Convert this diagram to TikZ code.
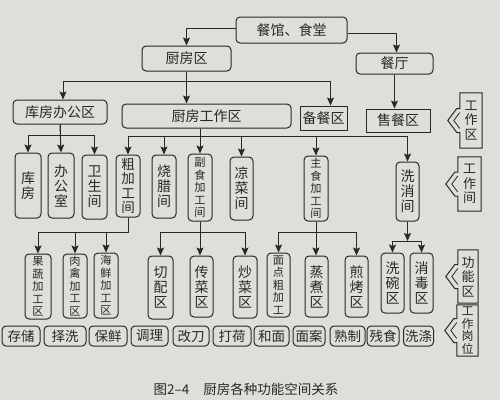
\documentclass[tikz,border=0pt]{standalone}
\usepackage{fontspec}
\setmainfont{Noto Sans CJK SC}
\usetikzlibrary{arrows.meta,calc}

\definecolor{paper}{RGB}{222,222,218}
\definecolor{ink}{RGB}{40,40,40}

\tikzset{
  box/.style={draw=ink, line width=1pt, rounded corners=4pt, inner sep=0pt,
    align=center, text=ink, font=\fontsize{14}{15}\selectfont},
  sqbox/.style={box, rounded corners=0pt},
  small/.style={font=\fontsize{11.2}{12.5}\selectfont},
  four/.style={font=\fontsize{13.5}{14.4}\selectfont},
  low/.style={box, minimum height=20pt, font=\fontsize{13.5}{14}\selectfont},
  arr/.style={draw=ink, line width=1pt, -{Stealth[length=8pt,width=7pt,inset=1.5pt]}},
  tag/.style={inner sep=0pt, align=center, text=ink, font=\fontsize{13}{14.5}\selectfont}
}

% frame with a hollow arrow head on its left side
\newcommand{\tagframe}[1]{%
  \draw[ink, line width=1pt] (#1.north west) -- ($(#1.west)+(0pt,12pt)$) -- ++(-3pt,0pt)
    -- ++(-9pt,-12pt) -- ++(9pt,-12pt) -- ++(3pt,0pt) -- (#1.south west)
    -- (#1.south east) -- (#1.north east) -- cycle;
  \draw[ink, line width=0.8pt] ($(#1.west)+(0pt,8pt)$) -- ++(-6pt,-8pt) -- ++(6pt,-8pt);
}

\begin{document}
\begin{tikzpicture}[x=1pt, y=-1pt]
    \fill[paper] (0,0) rectangle (500,400);
    % Top levels
    \node[box, minimum width=111pt, minimum height=26pt] (canguan) at (291.5,30) {餐馆、食堂};
    \node[box, minimum width=89pt, minimum height=25pt] (chufang) at (186.5,58.5) {厨房区};
    \node[box, minimum width=77pt, minimum height=21pt] (canting) at (394.5,63.5) {餐厅};
    \node[box, minimum width=94pt, minimum height=24pt] (kfbg) at (60,112) {库房办公区};
    \node[box, minimum width=169pt, minimum height=24pt] (work) at (206.5,116) {厨房工作区};
    \node[sqbox, minimum width=47pt, minimum height=24pt] (beican) at (323.5,118) {备餐区};
    \node[sqbox, minimum width=64pt, minimum height=23pt] (shoucan) at (398,120.5) {售餐区};
    % Rooms
    \node[box, minimum width=26pt, minimum height=65pt] (kufang) at (28,185.5) {库\\房};
    \node[box, minimum width=26pt, minimum height=65pt] (bangong) at (61,185.5) {办\\公\\室};
    \node[box, minimum width=25pt, minimum height=64pt] (weisheng) at (94.5,187) {卫\\生\\间};
    \node[box, four, minimum width=24pt, minimum height=62pt] (cujia) at (128,186) {粗\\加\\工\\间};
    \node[box, minimum width=24pt, minimum height=63pt] (shaola) at (164,186.5) {烧\\腊\\间};
    \node[box, small, minimum width=24pt, minimum height=67pt] (fushi) at (200,187.5) {副\\食\\加\\工\\间};
    \node[box, minimum width=23pt, minimum height=63pt] (liangcai) at (241.5,188.5) {凉\\菜\\间};
    \node[box, small, minimum width=24pt, minimum height=65pt] (zhushi) at (316,188.5) {主\\食\\加\\工\\间};
    \node[box, minimum width=23pt, minimum height=59pt] (xixiao) at (407.5,191.5) {洗\\消\\间};
    % Zones
    \node[box, small, minimum width=26pt, minimum height=65pt] (guoshu) at (38,286.5) {果\\蔬\\加\\工\\区};
    \node[box, small, minimum width=24pt, minimum height=64pt] (rouqin) at (75,286) {肉\\禽\\加\\工\\区};
    \node[box, small, minimum width=24pt, minimum height=65pt] (haixian) at (106,285.5) {海\\鲜\\加\\工\\区};
    \node[box, minimum width=25pt, minimum height=63pt] (qiepei) at (160.5,287.5) {切\\配\\区};
    \node[box, minimum width=23pt, minimum height=61pt] (chuancai) at (201.5,286.5) {传\\菜\\区};
    \node[box, minimum width=24pt, minimum height=62pt] (chaocai) at (245,287) {炒\\菜\\区};
    \node[box, small, minimum width=23pt, minimum height=64pt] (miandian) at (278.5,285) {面\\点\\粗\\加\\工};
    \node[box, minimum width=23pt, minimum height=61pt] (zhengzhu) at (316.5,286.5) {蒸\\煮\\区};
    \node[box, minimum width=23pt, minimum height=61pt] (jiankao) at (356.5,286.5) {煎\\烤\\区};
    \node[box, minimum width=23pt, minimum height=60pt] (xiwan) at (392.5,283) {洗\\碗\\区};
    \node[box, minimum width=23pt, minimum height=60pt] (xiaodu) at (421.5,283) {消\\毒\\区};
    % Posts
    \node[low, minimum width=38pt] (cunchu) at (21,336) {存储};
    \node[low, minimum width=42pt] (zexi) at (65,336) {择洗};
    \node[low, minimum width=38pt] (baoxian) at (108,336) {保鲜};
    \node[low, minimum width=37pt] (tiaoli) at (149.5,336) {调理};
    \node[low, minimum width=36pt] (gaidao) at (191,336) {改刀};
    \node[low, minimum width=38pt] (dahe) at (232,336) {打荷};
    \node[low, minimum width=35pt] (hemian) at (271.5,336) {和面};
    \node[low, minimum width=32pt] (mianan) at (309,336) {面案};
    \node[low, minimum width=35pt] (shuzhi) at (347.5,336) {熟制};
    \node[low, minimum width=32pt] (canshi) at (383,336) {残食};
    \node[low, minimum width=30pt] (xidi) at (418.5,336) {洗涤};
    % Level tags
    \node[tag, minimum width=22pt, minimum height=55pt] (gzq) at (471,120.5) {工\\作\\区};
    \node[tag, minimum width=23pt, minimum height=54pt] (gzj) at (469.5,184) {工\\作\\间};
    \node[tag, minimum width=20pt, minimum height=53pt] (gnq) at (468,276.5) {功\\能\\区};
    \node[tag, font=\fontsize{12}{12.5}\selectfont, minimum width=21pt, minimum height=51pt] (gzgw) at (467.5,330.5) {工\\作\\岗\\位};
    \tagframe{gzq}
    \tagframe{gzj}
    \tagframe{gnq}
    \tagframe{gzgw}
    % Caption
    \node[text=ink, font=\fontsize{13.5}{14}\selectfont] (caption) at (246,389) {图2–4\hspace{14pt}厨房各种功能空间关系};

    % Connectors
    \coordinate (bus1) at (0,81);
    \coordinate (bus2) at (0,135);
    \coordinate (bus3) at (0,136);
    \coordinate (bus4) at (0,232);
    \coordinate (bus5) at (0,241);
    \draw[arr] ([yshift=2pt]canguan.west) -| (chufang.north);
    \draw[arr] ([yshift=-3pt]canguan.east) -| ([xshift=2pt]canting.north);
    \draw[arr] (chufang.south) -- (chufang.south |- work.north);
    \draw[arr] (chufang.south |- bus1) -| ([xshift=3pt]kfbg.north);
    \draw[arr] (chufang.south |- bus1) -| ([xshift=7pt]beican.north);
    \draw[arr] (canting.south) -- (canting.south |- shoucan.north);
    % Storage and office
    \draw[arr] (kfbg.south) -- (kfbg.south |- bus2) -| (kufang.north);
    \draw[arr] (kfbg.south) -- (bangong.north);
    \draw[arr] (kfbg.south) -- (kfbg.south |- bus2) -| (weisheng.north);
    % Work rooms
    \draw[arr] (fushi.north |- work.south) -- (fushi.north |- bus3) -| (cujia.north);
    \draw[arr] (fushi.north |- work.south) -- (fushi.north |- bus3) -| (shaola.north);
    \draw[arr] (fushi.north |- work.south) -- (fushi.north);
    \draw[arr] (fushi.north |- work.south) -- (fushi.north |- bus3) -| (liangcai.north);
    \draw[arr] (fushi.north |- work.south) -- (fushi.north |- bus3) -| (zhushi.north);
    \draw[arr] (fushi.north |- work.south) -- (fushi.north |- bus3) -| (xixiao.north);
    % Zones
    \draw[arr] (cujia.south) -- (cujia.south |- bus4) -| (guoshu.north);
    \draw[arr] (cujia.south) -- (cujia.south |- bus4) -| (rouqin.north);
    \draw[arr] (cujia.south) -- (cujia.south |- bus4) -| (haixian.north);
    \draw[arr] (fushi.south) -- (fushi.south |- bus4) -| (qiepei.north);
    \draw[arr] (fushi.south) -- (chuancai.north -| fushi.south);
    \draw[arr] (fushi.south) -- (fushi.south |- bus4) -| (chaocai.north);
    \draw[arr] (zhushi.south) -- (zhushi.south |- bus4) -| (miandian.north);
    \draw[arr] (zhushi.south) -- (zhengzhu.north -| zhushi.south);
    \draw[arr] (zhushi.south) -- (zhushi.south |- bus4) -| (jiankao.north);
    \draw[arr] (xixiao.south) -- (xixiao.south |- bus5);
    \draw[ink, line width=1pt] (xiwan.north |- bus5) -- (xiaodu.north |- bus5);
    \draw[arr] (xiwan.north |- bus5) -- (xiwan.north);
    \draw[arr] (xiaodu.north |- bus5) -- (xiaodu.north);
\end{tikzpicture}
\end{document}
